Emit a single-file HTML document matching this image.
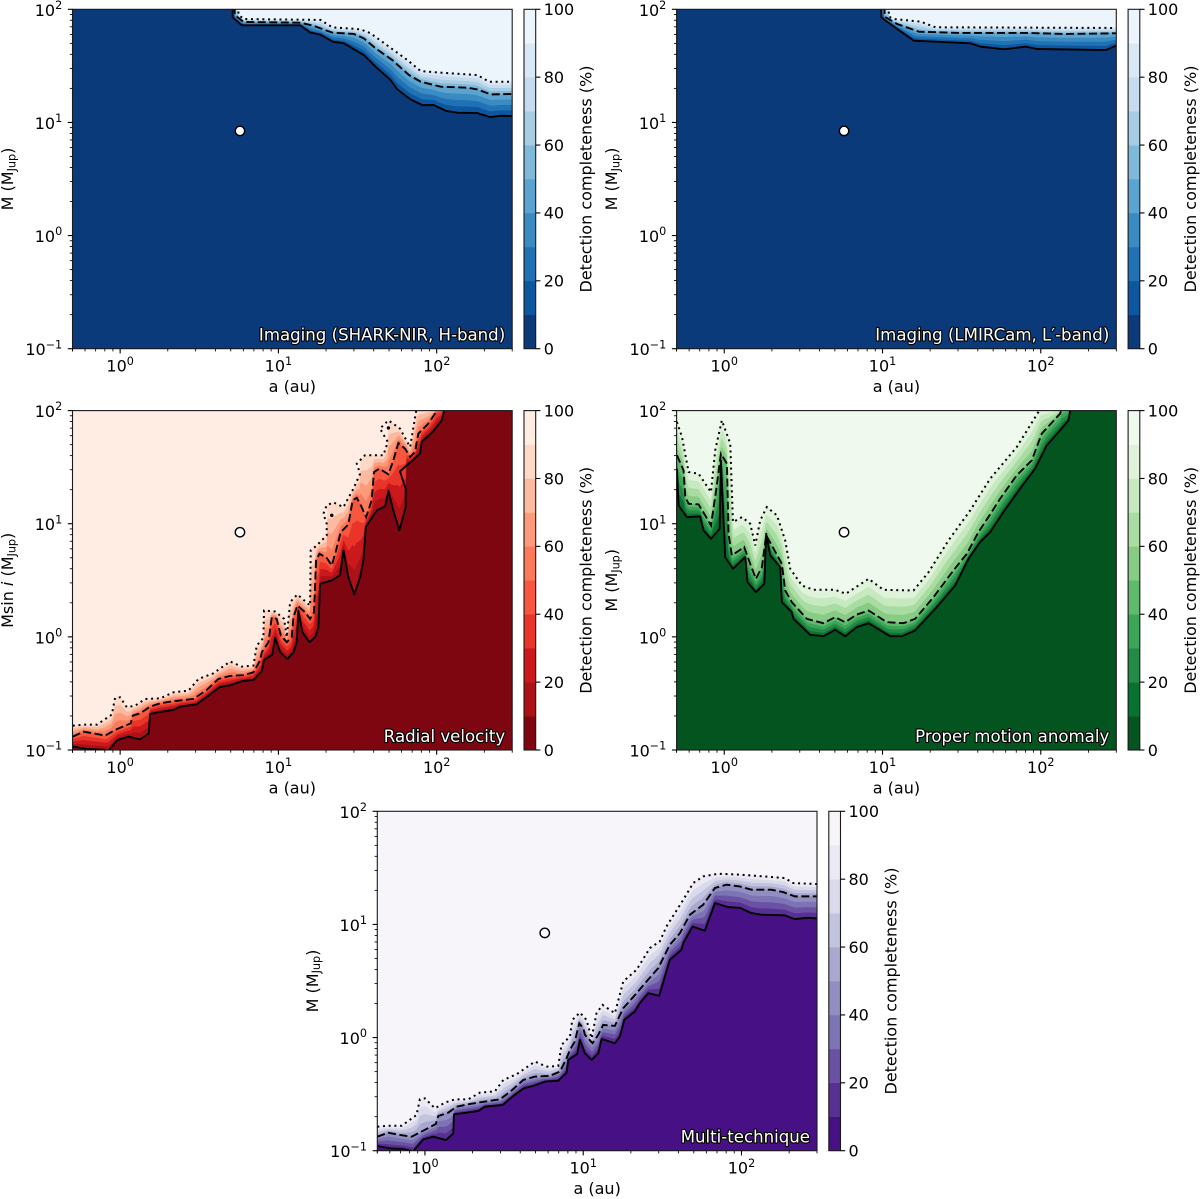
<!DOCTYPE html>
<html lang="en">
<head>
<meta charset="utf-8">
<title>Detection completeness maps</title>
<style>
html,body{margin:0;padding:0;background:#fff;}
svg{display:block;}
text{font-family:"DejaVu Sans","Liberation Sans",sans-serif;fill:#000;}
</style>
</head>
<body>
<svg id="figure" xmlns="http://www.w3.org/2000/svg" width="1200" height="1199" viewBox="0 0 1200 1199"></svg>
<script>
/* ---- axis values ---- */
const xMajorExponents = [0, 1, 2];
const yMajorExponents = [-1, 0, 1, 2];
const minorMultipliers = [2, 3, 4, 5, 6, 7, 8, 9];
const colorbarTicks = [0, 20, 40, 60, 80, 100];
const contourLevels = [10, 20, 30, 40, 50, 60, 70, 80, 90];
const planetLogA = 0.757;
const planetLogM = 0.925;

/* ---- colour scales: darkest (0-10 %) to lightest (90-100 %) ---- */
const blues = ['#0a3a7a','#0d57a1','#2171b5','#3b8bc3','#5ba3d0','#7fb9da','#a6cde4','#c6dbef','#d9e8f5','#edf5fc'];
const reds = ['#7d0610','#ad1117','#cb181d','#e83429','#f6573e','#fb7a5a','#fc9a7b','#fcbba1','#fed9c8','#ffede4'];
const greens = ['#03541f','#077331','#238b45','#3ba558','#60ba6c','#86cc85','#a9dca2','#c7e9c0','#dff3da','#f0f9ed'];
const purples = ['#471084','#582f93','#6a51a3','#7c74b5','#928ec2','#aaa8d0','#c2c3df','#dadaeb','#ebe9f3','#f7f5fa'];

/* ---- contours: log10(a/au) and log10(M/MJup) ---- */
const sharkSolidLogA = [0.711,0.711,0.770,1.139,1.203,1.266,1.344,1.414,1.540,1.614,1.709,1.751,1.835,1.909,1.983,2.057,2.131,2.257,2.338,2.405,2.479];
const sharkSolidLogM = [2.03,1.929,1.858,1.858,1.794,1.776,1.714,1.699,1.596,1.493,1.375,1.292,1.204,1.153,1.153,1.103,1.086,1.083,1.047,1.059,1.056];
const sharkDashedLogA = [0.724,0.724,0.781,1.139,1.224,1.340,1.477,1.540,1.614,1.719,1.825,1.899,2.025,2.194,2.257,2.342,2.479];
const sharkDashedLogM = [2.03,1.950,1.888,1.882,1.853,1.794,1.782,1.743,1.655,1.552,1.419,1.360,1.316,1.307,1.292,1.248,1.251];
const sharkDottedLogA = [0.743,0.749,0.781,1.266,1.340,1.519,1.582,1.698,1.814,1.899,2.025,2.257,2.331,2.479];
const sharkDottedLogM = [2.03,1.950,1.914,1.906,1.841,1.823,1.788,1.670,1.552,1.454,1.440,1.419,1.360,1.360];

const lmirSolidLogA = [0.992,0.992,1.072,1.198,1.557,1.620,1.768,1.905,1.979,2.411,2.481];
const lmirSolidLogM = [2.03,1.929,1.847,1.723,1.699,1.670,1.646,1.670,1.649,1.640,1.681];
const lmirDashedLogA = [1.013,1.013,1.093,1.230,1.494,1.916,2.148,2.481];
const lmirDashedLogM = [2.03,1.935,1.870,1.802,1.791,1.791,1.782,1.788];
const lmirDottedLogA = [1.040,1.040,1.072,1.241,1.335,2.481];
const lmirDottedLogM = [2.03,1.935,1.914,1.891,1.841,1.835];

const rvSolidLogA = [-0.299,-0.211,-0.105,-0.074,-0.017,0.053,0.126,0.181,0.189,0.253,0.337,0.379,0.484,0.558,0.627,0.695,0.768,0.842,0.895,0.909,0.962,0.979,1.011,1.057,1.095,1.116,1.126,1.152,1.196,1.232,1.253,1.263,1.337,1.389,1.411,1.442,1.480,1.516,1.537,1.552,1.621,1.674,1.695,1.726,1.764,1.804,1.804,1.768,1.895,1.905,1.975,2.032,2.046,2.046];
const rvSolidLogM = [-0.970,-0.991,-0.997,-1.006,-0.912,-0.882,-0.906,-0.853,-0.681,-0.664,-0.646,-0.617,-0.596,-0.519,-0.445,-0.428,-0.392,-0.381,-0.304,-0.204,-0.156,-0.009,-0.136,-0.195,-0.136,-0.047,0.233,0.041,-0.047,-0.003,0.086,0.469,0.499,0.543,0.764,0.528,0.375,0.528,0.676,0.971,1.118,1.153,1.289,1.118,0.941,1.147,1.310,1.463,1.619,1.723,1.811,1.914,1.997,2.03];
const rvDashedLogA = [-0.299,-0.232,-0.168,-0.095,-0.032,0.067,0.080,0.126,0.189,0.253,0.337,0.463,0.547,0.621,0.695,0.779,0.842,0.884,0.895,0.937,0.958,0.989,1.015,1.053,1.084,1.095,1.120,1.168,1.200,1.225,1.238,1.259,1.305,1.337,1.364,1.394,1.442,1.469,1.495,1.526,1.554,1.589,1.604,1.638,1.695,1.726,1.758,1.800,1.832,1.863,1.884,1.947,1.989,2.0];
const rvDashedLogM = [-0.882,-0.838,-0.853,-0.873,-0.823,-0.764,-0.696,-0.676,-0.617,-0.587,-0.569,-0.549,-0.469,-0.372,-0.345,-0.339,-0.313,-0.209,-0.136,-0.047,0.174,0.159,0.012,-0.047,-0.003,0.174,0.277,0.218,0.159,0.218,0.676,0.735,0.699,0.631,0.764,0.926,0.994,1.206,1.230,1.147,1.059,1.206,1.457,1.487,1.437,1.560,1.714,1.664,1.590,1.634,1.796,1.885,1.973,2.018];
const rvDottedLogA = [-0.299,-0.232,-0.147,-0.053,-0.032,0,0.042,0.095,0.158,0.253,0.337,0.432,0.495,0.589,0.695,0.768,0.842,0.863,0.905,0.909,0.979,1.036,1.053,1.074,1.120,1.200,1.204,1.242,1.305,1.305,1.284,1.305,1.347,1.411,1.474,1.516,1.495,1.547,1.663,1.691,1.642,1.695,1.768,1.832,1.869,1.874];
const rvDottedLogM = [-0.785,-0.776,-0.776,-0.687,-0.540,-0.534,-0.622,-0.608,-0.549,-0.543,-0.490,-0.475,-0.372,-0.322,-0.218,-0.263,-0.254,-0.077,-0.009,0.233,0.224,0.159,-0.003,0.307,0.375,0.277,0.764,0.808,0.897,1.0,1.088,1.162,1.189,1.147,1.310,1.442,1.531,1.605,1.605,1.723,1.841,1.914,1.841,1.678,1.988,2.018];
const rvIslandLogA = [1.337, 1.695];
const rvIslandLogM = [1.074, 1.847];

const pmaSolidLogA = [-0.299,-0.288,-0.236,-0.152,-0.131,-0.084,-0.029,-0.021,0.006,0.055,0.133,0.147,0.200,0.253,0.265,0.291,0.354,0.364,0.427,0.438,0.543,0.627,0.701,0.764,0.838,0.912,1.048,1.122,1.206,1.343,1.459,1.543,1.617,1.680,1.764,1.869,1.964,2.038,2.122,2.175,2.185,2.192];
const pmaSolidLogM = [1.487,1.162,1.059,1.065,0.941,0.867,0.956,1.560,0.705,0.602,0.705,0.484,0.395,0.469,0.912,0.720,0.617,0.307,0.218,0.159,0.018,0.006,0.062,0.006,0.086,0.121,0.006,0.006,0.056,0.263,0.454,0.690,0.838,0.926,1.103,1.310,1.487,1.693,1.826,1.914,1.997,2.032];
const pmaDashedLogA = [-0.299,-0.257,-0.246,-0.225,-0.162,-0.114,-0.084,-0.051,-0.021,0.017,0.027,0.048,0.126,0.164,0.200,0.238,0.265,0.312,0.364,0.385,0.427,0.522,0.627,0.701,0.764,0.838,0.912,1.027,1.133,1.206,1.322,1.448,1.533,1.606,1.669,1.743,1.848,1.943,2.006,2.122,2.133];
const pmaDashedLogM = [1.605,1.472,1.236,1.177,1.171,1.059,0.985,1.295,1.619,1.531,0.912,0.720,0.794,0.646,0.513,0.617,0.897,0.779,0.646,0.410,0.307,0.159,0.121,0.174,0.130,0.198,0.233,0.130,0.121,0.159,0.351,0.587,0.735,0.926,1.059,1.221,1.428,1.560,1.796,1.973,2.018];
const pmaDottedLogA = [-0.299,-0.267,-0.225,-0.162,-0.084,-0.057,-0.015,0.038,0.055,0.112,0.164,0.196,0.227,0.269,0.333,0.385,0.417,0.491,0.564,0.701,0.768,0.912,1.006,1.196,1.291,1.417,1.554,1.680,1.848,1.985,1.996];
const pmaDottedLogM = [1.900,1.767,1.457,1.442,1.280,1.649,1.914,1.708,1.015,1.059,1.0,0.808,1.029,1.147,1.074,0.853,0.602,0.454,0.416,0.416,0.381,0.513,0.416,0.410,0.572,0.853,1.118,1.398,1.678,1.988,2.018];

const multiSolidLogA = [-0.301,-0.221,-0.137,-0.074,-0.011,0.053,0.133,0.179,0.183,0.263,0.337,0.379,0.491,0.558,0.625,0.684,0.758,0.842,0.895,0.905,0.962,0.979,1.011,1.053,1.095,1.116,1.200,1.232,1.259,1.326,1.358,1.411,1.480,1.547,1.621,1.632,1.691,1.768,1.832,1.916,1.989,2.063,2.126,2.274,2.337,2.411,2.478];
const multiSolidLogM = [-0.959,-0.979,-0.985,-1.005,-0.900,-0.876,-0.906,-0.847,-0.678,-0.664,-0.649,-0.611,-0.596,-0.516,-0.448,-0.428,-0.389,-0.381,-0.310,-0.198,-0.145,-0.021,-0.139,-0.198,-0.139,-0.012,-0.050,0.009,0.156,0.230,0.304,0.392,0.369,0.687,0.776,0.835,0.982,0.944,1.189,1.153,1.147,1.100,1.086,1.080,1.047,1.059,1.053];
const multiDashedLogA = [-0.301,-0.232,-0.158,-0.084,-0.011,0.069,0.084,0.147,0.200,0.284,0.379,0.474,0.547,0.621,0.695,0.789,0.853,0.895,0.916,0.947,0.975,1.0,1.011,1.059,1.095,1.126,1.200,1.253,1.337,1.400,1.474,1.547,1.611,1.674,1.758,1.832,1.905,1.989,2.063,2.189,2.263,2.337,2.478];
const multiDashedLogM = [-0.876,-0.841,-0.861,-0.876,-0.823,-0.764,-0.693,-0.664,-0.611,-0.587,-0.566,-0.546,-0.469,-0.375,-0.345,-0.339,-0.301,-0.183,-0.109,-0.035,0.127,0.083,0.024,-0.050,0.024,0.112,0.103,0.260,0.392,0.496,0.614,0.820,0.923,1.086,1.174,1.322,1.351,1.336,1.307,1.307,1.286,1.248,1.248];
const multiDottedLogA = [-0.301,-0.232,-0.147,-0.053,-0.032,0,0.063,0.126,0.189,0.274,0.347,0.442,0.495,0.579,0.695,0.768,0.842,0.863,0.916,0.931,0.979,1.021,1.053,1.084,1.122,1.200,1.253,1.337,1.421,1.484,1.526,1.632,1.695,1.758,1.853,1.989,2.137,2.274,2.326,2.478];
const multiDottedLogM = [-0.788,-0.779,-0.779,-0.684,-0.546,-0.537,-0.625,-0.575,-0.546,-0.546,-0.487,-0.475,-0.375,-0.324,-0.212,-0.257,-0.251,-0.065,0.009,0.156,0.221,0.156,-0.006,0.215,0.289,0.215,0.496,0.599,0.791,0.850,0.982,1.218,1.366,1.425,1.448,1.440,1.425,1.410,1.366,1.357];

/* ---- figure layout ---- */
const plotW = 439.7, plotH = 339.4;
const logAMin = Math.log10(0.5), logAMax = Math.log10(300);
const logMMin = -1, logMMax = 2;
const FS = 16, SUP = 11.2, LABEL_FS = 16.6;
const NS = 'http://www.w3.org/2000/svg';
const figure = document.getElementById('figure');

function make(tag, attrs, parent, text) {
  const node = document.createElementNS(NS, tag);
  for (const k in attrs) node.setAttribute(k, attrs[k]);
  if (text !== undefined) node.textContent = text;
  parent.appendChild(node);
  return node;
}

/* value of a contour (lowest crossing) at a given log a, clamped past its ends */
function contourAt(logAs, logMs, a) {
  const n = logAs.length;
  if (a <= logAs[0]) return logMs[0];
  if (a >= logAs[n - 1]) return logMs[n - 1];
  let best = Infinity;
  for (let i = 0; i < n - 1; i++) {
    const a0 = logAs[i], a1 = logAs[i + 1];
    if ((a0 <= a && a <= a1) || (a1 <= a && a <= a0)) {
      const v = a1 === a0 ? Math.min(logMs[i], logMs[i + 1]) : logMs[i] + (logMs[i + 1] - logMs[i]) * (a - a0) / (a1 - a0);
      if (v < best) best = v;
    }
  }
  return best === Infinity ? logMs[n - 1] : best;
}

function drawPanel(p) {
  const x = a => p.left + (a - logAMin) / (logAMax - logAMin) * plotW;
  const xInv = px => logAMin + (px - p.left) / plotW * (logAMax - logAMin);
  const y = m => p.top + (logMMax - m) / (logMMax - logMMin) * plotH;
  const right = p.left + plotW, bottom = p.top + plotH;

  const panel = make('g', {}, figure);
  
  

  const clipId = 'clip-' + p.name;
  const defs = make('defs', {}, panel);
  const clip = make('clipPath', { id: clipId }, defs);
  make('rect', { x: p.left, y: p.top, width: plotW, height: plotH }, clip);

  const plot = make('g', { 'clip-path': 'url(#' + clipId + ')' }, panel);
  
  

  const base = make('rect', { x: p.left, y: p.top, width: plotW, height: plotH, fill: p.colors[0] }, plot);
  
  

  /* filled contour bands between the 10, 50 and 90 % contours */
  contourLevels.forEach((lev, idx) => {
    let d = 'M' + p.left + ' ' + (p.top - 5);
    for (let px = p.left; px <= right + 1; px += 1) {
      const a = xInv(px);
      const m10 = contourAt(p.solidA, p.solidM, a);
      const m50 = Math.max(m10, contourAt(p.dashedA, p.dashedM, a));
      const m90 = Math.max(m50, contourAt(p.dottedA, p.dottedM, a));
      const m = lev <= 50 ? m10 + (m50 - m10) * (lev - 10) / 40 : m50 + (m90 - m50) * (lev - 50) / 40;
      d += 'L' + px.toFixed(1) + ' ' + y(m).toFixed(2);
    }
    d += 'L' + (right + 1) + ' ' + (p.top - 5) + 'Z';
    const band = make('path', { d: d, fill: p.colors[idx + 1] }, plot);
    
    
  });

  /* contour lines */
  const linePath = (as, ms) => as.map((a, i) => (i ? 'L' : 'M') + x(a).toFixed(2) + ' ' + y(ms[i]).toFixed(2)).join('');
  const solid = make('path', { d: linePath(p.solidA, p.solidM), fill: 'none', stroke: '#000', 'stroke-width': 1.9, 'stroke-linejoin': 'round' }, plot);
  
  
  const dashed = make('path', { d: linePath(p.dashedA, p.dashedM), fill: 'none', stroke: '#000', 'stroke-width': 1.9, 'stroke-dasharray': '8 3.5' }, plot);
  
  
  const dotted = make('path', { d: linePath(p.dottedA, p.dottedM), fill: 'none', stroke: '#000', 'stroke-width': 2, 'stroke-dasharray': '2 3.7' }, plot);
  
  

  if (p.islandA) {
    p.islandA.forEach((a, i) => {
      const isle = make('circle', { cx: x(a), cy: y(p.islandM[i]), r: 1.7, fill: '#000' }, plot);
      
      
    });
  }

  /* planet marker */
  const planet = make('circle', { cx: x(planetLogA), cy: y(planetLogM), r: 4.7, fill: '#fff', stroke: '#000', 'stroke-width': 1.4 }, plot);
  
  

  /* panel label */
  const label = make('text', { x: right - 7, y: bottom - 8, 'text-anchor': 'end', 'font-size': LABEL_FS, style: 'fill:#fff;stroke:#000;stroke-width:2.2px;paint-order:stroke;stroke-linejoin:round' }, panel, p.label);
  
  

  /* spines */
  const frame = make('rect', { x: p.left, y: p.top, width: plotW, height: plotH, fill: 'none', stroke: '#1a1a1a', 'stroke-width': 1.1 }, panel);
  
  

  /* ticks */
  const ticks = make('g', { stroke: '#000' }, panel);
  
  
  const xAxis = make('g', {}, panel);
  
  
  const yAxis = make('g', {}, panel);
  
  

  const exps = [-1, 0, 1, 2];
  exps.forEach(e => minorMultipliers.forEach(mult => {
    const v = e + Math.log10(mult);
    if (v >= logAMin && v <= logAMax) {
      const px = x(v);
      make('line', { x1: px, x2: px, y1: bottom, y2: bottom + 2.7, 'stroke-width': 0.85 }, ticks);
    }
    if (v >= logMMin && v <= logMMax) {
      const py = y(v);
      make('line', { x1: p.left, x2: p.left - 2.7, y1: py, y2: py, 'stroke-width': 0.85 }, ticks);
    }
  }));
  make('line', { x1: p.left, x2: p.left, y1: bottom, y2: bottom + 2.7, 'stroke-width': 0.85 }, ticks);
  xMajorExponents.forEach(e => {
    const px = x(e);
    make('line', { x1: px, x2: px, y1: bottom, y2: bottom + 4.7, 'stroke-width': 1.1 }, ticks);
    const t = make('text', { x: px, y: bottom + 23, 'text-anchor': 'middle', 'font-size': FS }, xAxis);
    
    
    make('tspan', {}, t, '10');
    make('tspan', { dy: -6.9, 'font-size': SUP }, t, String(e));
  });
  yMajorExponents.forEach(e => {
    const py = y(e);
    make('line', { x1: p.left, x2: p.left - 4.7, y1: py, y2: py, 'stroke-width': 1.1 }, ticks);
    const t = make('text', { x: p.left - 10.3, y: py + 6.5, 'text-anchor': 'end', 'font-size': FS }, yAxis);
    
    
    make('tspan', {}, t, '10');
    make('tspan', { dy: -6.9, 'font-size': SUP }, t, String(e).replace('-', '\u2212'));
  });

  /* axis titles */
  const xTitle = make('text', { x: p.left + plotW / 2, y: bottom + 43.5, 'text-anchor': 'middle', 'font-size': FS }, panel, 'a (au)');
  
  

  const tx = p.left - 59.5, ty = p.top + plotH / 2;
  const yTitle = make('text', { x: tx, y: ty, 'text-anchor': 'middle', 'font-size': FS, transform: 'rotate(-90 ' + tx + ' ' + ty + ')' }, panel);
  
  
  if (p.sini) {
    make('tspan', {}, yTitle, 'Msin ');
    make('tspan', { 'font-style': 'italic' }, yTitle, 'i');
    make('tspan', {}, yTitle, ' (M');
  } else {
    make('tspan', {}, yTitle, 'M (M');
  }
  make('tspan', { dy: 2.4, 'font-size': SUP }, yTitle, 'Jup');
  make('tspan', { dy: -2.4 }, yTitle, ')');

  /* colour bar */
  const cbLeft = p.left + 451.5, cbW = 11.7;
  const cbY = v => bottom - v / 100 * plotH;
  const cbar = make('g', {}, panel);
  
  
  p.colors.forEach((c, i) => {
    const seg = make('rect', { x: cbLeft, y: cbY((i + 1) * 10), width: cbW, height: plotH / 10 + 0.3, fill: c }, cbar);
    
    
  });
  const cbFrame = make('rect', { x: cbLeft, y: p.top, width: cbW, height: plotH, fill: 'none', stroke: '#1a1a1a', 'stroke-width': 1.1 }, cbar);
  
  
  colorbarTicks.forEach(v => {
    const py = cbY(v);
    make('line', { x1: cbLeft + cbW, x2: cbLeft + cbW + 4.7, y1: py, y2: py, stroke: '#000', 'stroke-width': 1.1 }, cbar);
    const t = make('text', { x: cbLeft + cbW + 8, y: py + 5.8, 'font-size': FS }, cbar, String(v));
    
    
  });
  const cx = p.left + 519.2;
  const cbTitle = make('text', { x: cx, y: ty, 'text-anchor': 'middle', 'font-size': FS, transform: 'rotate(-90 ' + cx + ' ' + ty + ')' }, cbar, 'Detection completeness (%)');
  
  
}

drawPanel({ name: 'imaging-shark-nir', left: 72.5, top: 9.3, colors: blues, label: 'Imaging (SHARK-NIR, H-band)',
  solidA: sharkSolidLogA, solidM: sharkSolidLogM, dashedA: sharkDashedLogA, dashedM: sharkDashedLogM, dottedA: sharkDottedLogA, dottedM: sharkDottedLogM });
drawPanel({ name: 'imaging-lmircam', left: 676.6, top: 9.3, colors: blues, label: 'Imaging (LMIRCam, L\u2032-band)',
  solidA: lmirSolidLogA, solidM: lmirSolidLogM, dashedA: lmirDashedLogA, dashedM: lmirDashedLogM, dottedA: lmirDottedLogA, dottedM: lmirDottedLogM });
drawPanel({ name: 'radial-velocity', left: 72.5, top: 410.6, colors: reds, label: 'Radial velocity', sini: true,
  solidA: rvSolidLogA, solidM: rvSolidLogM, dashedA: rvDashedLogA, dashedM: rvDashedLogM, dottedA: rvDottedLogA, dottedM: rvDottedLogM,
  islandA: rvIslandLogA, islandM: rvIslandLogM });
drawPanel({ name: 'proper-motion-anomaly', left: 676.6, top: 410.6, colors: greens, label: 'Proper motion anomaly',
  solidA: pmaSolidLogA, solidM: pmaSolidLogM, dashedA: pmaDashedLogA, dashedM: pmaDashedLogM, dottedA: pmaDottedLogA, dottedM: pmaDottedLogM });
drawPanel({ name: 'multi-technique', left: 377.3, top: 811.3, colors: purples, label: 'Multi-technique',
  solidA: multiSolidLogA, solidM: multiSolidLogM, dashedA: multiDashedLogA, dashedM: multiDashedLogM, dottedA: multiDottedLogA, dottedM: multiDottedLogM });
</script>
</body>
</html>
